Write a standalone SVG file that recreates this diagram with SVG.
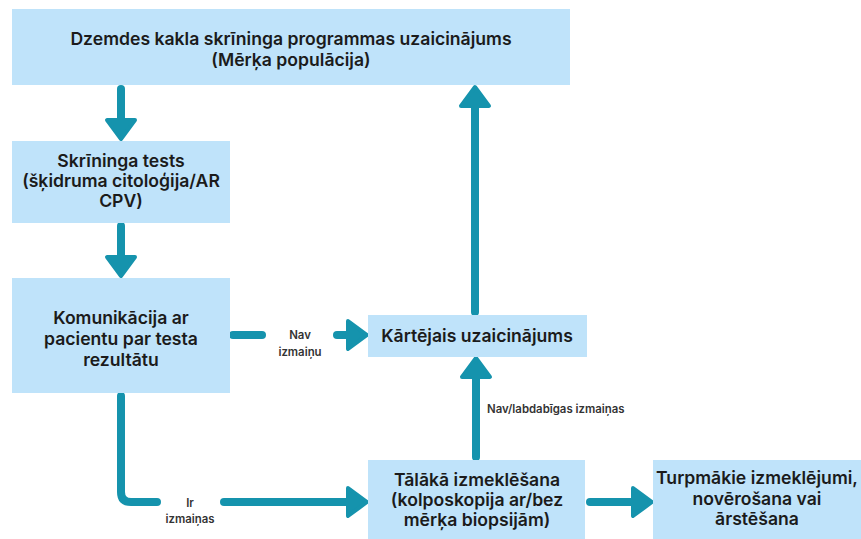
<svg xmlns="http://www.w3.org/2000/svg" xmlns:xlink="http://www.w3.org/1999/xlink" width="861" height="539" viewBox="0 0 861 539">
  <style>
    .box { fill: #bfe3fa; }
    .t { font-family: Inter, "Open Sans", "Liberation Sans", sans-serif; font-weight: 600; font-size: 17.6px; fill: #1b1b1b; text-anchor: middle; }
    .lbl { font-family: Inter, "Open Sans", "Liberation Sans", sans-serif; font-weight: 600; font-size: 11.4px; fill: #333333; text-anchor: middle; }
    .lbl-l { text-anchor: start; }
    .wire { fill: none; stroke: #1593ad; stroke-width: 8; stroke-linecap: round; stroke-linejoin: round; }
    .head { fill: #1593ad; stroke: #1593ad; stroke-width: 4; stroke-linejoin: round; }
  </style>
  <defs>
    <!-- arrowhead pointing right, tip at origin -->
    <path id="head" class="head" d="M-20,-14 L-1,0 L-20,14 Z"/>
  </defs>

  <rect width="861" height="539" fill="#ffffff"/>

  <g id="connectors">
    <!-- invitation -> screening test -->
    <line class="wire" x1="121" y1="89" x2="121" y2="120"/>
    <use href="#head" transform="translate(121,140) rotate(90)"/>
    <!-- screening test -> communication -->
    <line class="wire" x1="121" y1="226" x2="121" y2="258"/>
    <use href="#head" transform="translate(121,277) rotate(90)"/>
    <!-- communication -> routine invitation (no changes) -->
    <line class="wire" x1="233" y1="335" x2="262" y2="335"/>
    <line class="wire" x1="337" y1="335" x2="350" y2="335"/>
    <use href="#head" transform="translate(368,335)"/>
    <!-- routine invitation -> programme invitation -->
    <line class="wire" x1="475" y1="312" x2="475" y2="106"/>
    <use href="#head" transform="translate(475,86) rotate(-90)"/>
    <!-- communication -> further examination (changes) -->
    <path class="wire" d="M121,396 V492 Q121,502 131,502 H157"/>
    <line class="wire" x1="224" y1="502" x2="350" y2="502"/>
    <use href="#head" transform="translate(368,502)"/>
    <!-- further examination -> routine invitation -->
    <line class="wire" x1="476" y1="457" x2="476" y2="377"/>
    <use href="#head" transform="translate(476,357) rotate(-90)"/>
    <!-- further examination -> follow-up -->
    <line class="wire" x1="590" y1="502" x2="635" y2="502"/>
    <use href="#head" transform="translate(653,502)"/>

    <text class="lbl" x="300" y="339">Nav</text>
    <text class="lbl" x="300" y="356">izmaiņu</text>
    <text class="lbl" x="190" y="507">Ir</text>
    <text class="lbl" x="190" y="523">izmaiņas</text>
    <text class="lbl lbl-l" x="487" y="413">Nav/labdabīgas izmaiņas</text>
  </g>

  <g id="invitation">
    <rect class="box" x="12" y="9" width="558" height="76"/>
    <text class="t" x="291" y="45">Dzemdes kakla skrīninga programmas uzaicinājums</text>
    <text class="t" x="291" y="66">(Mērķa populācija)</text>
  </g>

  <g id="screening-test">
    <rect class="box" x="12" y="141" width="218" height="82"/>
    <text class="t" x="121" y="167">Skrīninga tests</text>
    <text class="t" x="121" y="187">(šķidruma citoloģija/AR</text>
    <text class="t" x="121" y="207">CPV)</text>
  </g>

  <g id="communication">
    <rect class="box" x="12" y="278" width="218" height="115"/>
    <text class="t" x="121" y="324">Komunikācija ar</text>
    <text class="t" x="121" y="345">pacientu par testa</text>
    <text class="t" x="121" y="366">rezultātu</text>
  </g>

  <g id="routine-invitation">
    <rect class="box" x="368" y="315" width="219" height="42"/>
    <text class="t" x="477" y="342">Kārtējais uzaicinājums</text>
  </g>

  <g id="further-examination">
    <rect class="box" x="368" y="460" width="217" height="79"/>
    <text class="t" x="477" y="486">Tālākā izmeklēšana</text>
    <text class="t" x="477" y="506">(kolposkopija ar/bez</text>
    <text class="t" x="477" y="526">mērķa biopsijām)</text>
  </g>

  <g id="follow-up">
    <rect class="box" x="653" y="460" width="215" height="79"/>
    <text class="t" x="757" y="484">Turpmākie izmeklējumi,</text>
    <text class="t" x="757" y="505">novērošana vai</text>
    <text class="t" x="757" y="525">ārstēšana</text>
  </g>
</svg>
